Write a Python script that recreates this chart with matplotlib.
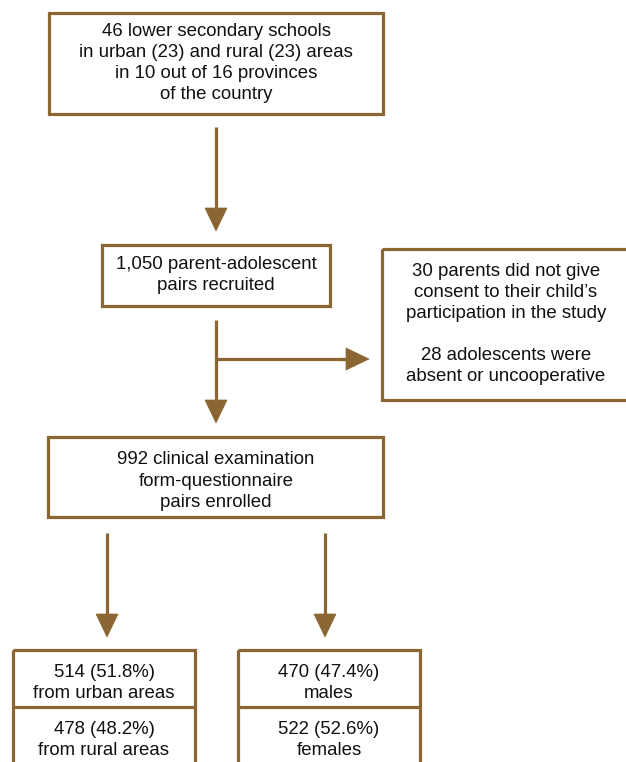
import matplotlib.pyplot as plt
from matplotlib.patches import Rectangle, Polygon

# box texts
top_text = "46 lower secondary schools\nin urban (23) and rural (23) areas\nin 10 out of 16 provinces\nof the country"
recruited_text = "1,050 parent-adolescent\npairs recruited"
excluded_text = ("30 parents did not give\nconsent to their child\u2019s\nparticipation in the study\n\n"
                 "28 adolescents were\nabsent or uncooperative")
enrolled_text = "992 clinical examination\nform-questionnaire\npairs enrolled"
area_counts = [514, 478]
area_pcts = [51.8, 48.2]
area_labels = ["from urban areas", "from rural areas"]
sex_counts = [470, 522]
sex_pcts = [47.4, 52.6]
sex_labels = ["males", "females"]

BROWN = "#8b6532"
LW = 2.3
FS = 13.4

fig = plt.figure(figsize=(6.26, 7.62), dpi=100)
ax = fig.add_axes([0, 0, 1, 1])
ax.set_xlim(0, 626)
ax.set_ylim(762, 0)
ax.axis("off")


def box(x0, y0, x1, y1):
    ax.add_patch(Rectangle((x0, y0), x1 - x0, y1 - y0, fill=False,
                           edgecolor=BROWN, linewidth=LW, joinstyle="miter"))


def text(x, y, s):
    ax.text(x, y, s, ha="center", va="center", fontsize=FS, color="#111111",
            family=["Liberation Sans", "DejaVu Sans"], linespacing=1.32)


def arrow(x0, y0, x1, y1, head_l=23, head_w=22):
    dx, dy = x1 - x0, y1 - y0
    n = (dx ** 2 + dy ** 2) ** 0.5
    ux, uy = dx / n, dy / n
    bx, by = x1 - ux * head_l, y1 - uy * head_l
    ax.plot([x0, bx], [y0, by], color=BROWN, lw=LW, solid_capstyle="butt")
    px, py = -uy * head_w / 2, ux * head_w / 2
    ax.add_patch(Polygon([(x1, y1), (bx + px, by + py), (bx - px, by - py)],
                         closed=True, facecolor=BROWN, edgecolor=BROWN, lw=0.5))


# top box
box(49, 13, 383, 114)
text(216, 63, top_text)
arrow(216, 127, 216, 231)

# recruited
box(102, 245, 330, 306)
text(216, 275, recruited_text)
arrow(216, 320, 216, 423)
ax.plot([216, 346], [359, 359], color=BROWN, lw=LW, solid_capstyle="butt")
arrow(340, 359, 369, 359)

# excluded
box(382, 249, 630, 400)
text(506, 324, excluded_text)

# enrolled
box(48, 437, 383, 517)
text(216, 481, enrolled_text)
arrow(107, 533, 107, 637)
arrow(325, 533, 325, 637)

# bottom split boxes
for x0, x1, counts, pcts, labels in [(13, 195, area_counts, area_pcts, area_labels),
                                     (238, 420, sex_counts, sex_pcts, sex_labels)]:
    box(x0, 650, x1, 775)
    ax.plot([x0, x1], [707, 707], color=BROWN, lw=LW, solid_capstyle="butt")
    xc = (x0 + x1) / 2
    for i, (c, p, lab) in enumerate(zip(counts, pcts, labels)):
        text(xc, 683 + i * 57, f"{c} ({p}%)\n{lab}")

fig.savefig("out.png", dpi=100)
